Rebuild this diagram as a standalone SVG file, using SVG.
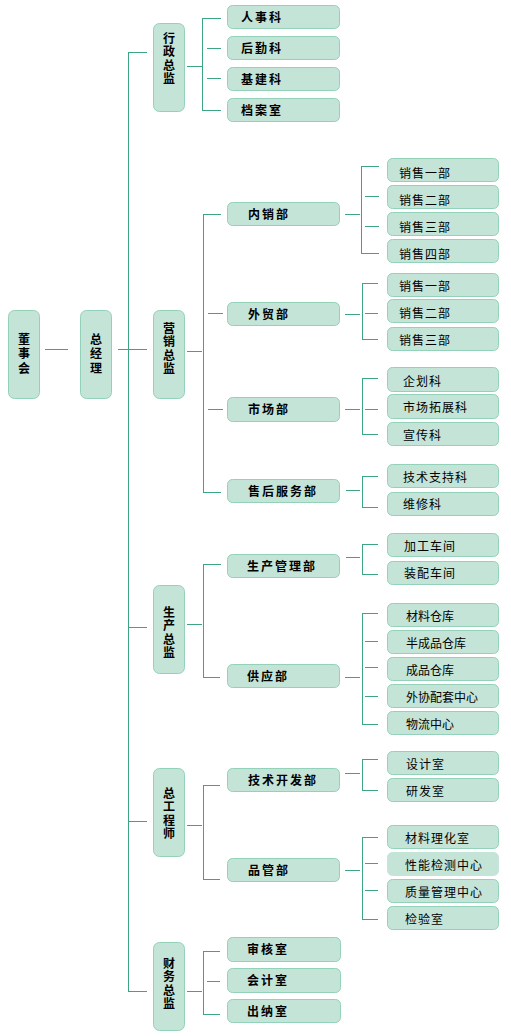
<svg xmlns="http://www.w3.org/2000/svg" width="511" height="1036" viewBox="0 0 511 1036">
<style>
.b{fill:#C4E4D8;stroke:#93D2B8;stroke-width:1}
.c line{stroke:#3DA680;stroke-width:1;fill:none}
text{font-family:"Noto Sans CJK SC","Noto Sans CJK JP",sans-serif;font-size:12px;fill:#000}
.v{font-weight:bold;writing-mode:vertical-rl;letter-spacing:1.6px}
.v0{font-weight:bold;writing-mode:vertical-rl;letter-spacing:2.5px}
.t2{font-weight:bold;letter-spacing:2px}
.t3{letter-spacing:1px}
</style>
<rect width="511" height="1036" fill="#FFFFFF"/>
<g class="c" id="connectors">
<line x1="45" y1="349.5" x2="68" y2="349.5"/>
<line x1="118" y1="349.5" x2="147" y2="349.5"/>
<line x1="128.5" y1="52" x2="128.5" y2="992"/>
<line x1="128" y1="52.5" x2="147" y2="52.5"/>
<line x1="128" y1="627.5" x2="147" y2="627.5"/>
<line x1="128" y1="821.5" x2="147" y2="821.5"/>
<line x1="128" y1="991.5" x2="147" y2="991.5"/>
<line x1="187" y1="66.5" x2="202" y2="66.5"/>
<line x1="202.5" y1="18" x2="202.5" y2="111"/>
<line x1="202" y1="18.5" x2="221" y2="18.5"/>
<line x1="207" y1="48.5" x2="221" y2="48.5"/>
<line x1="207" y1="78.5" x2="221" y2="78.5"/>
<line x1="202" y1="110.5" x2="221" y2="110.5"/>
<line x1="187" y1="351.5" x2="202" y2="351.5"/>
<line x1="203.5" y1="214" x2="203.5" y2="493"/>
<line x1="203" y1="214.5" x2="221" y2="214.5"/>
<line x1="208" y1="313.5" x2="223" y2="313.5"/>
<line x1="208" y1="409.5" x2="223" y2="409.5"/>
<line x1="203" y1="492.5" x2="221" y2="492.5"/>
<line x1="345" y1="214.5" x2="360" y2="214.5"/>
<line x1="361.5" y1="166" x2="361.5" y2="254"/>
<line x1="361" y1="166.5" x2="379" y2="166.5"/>
<line x1="365" y1="196.5" x2="379" y2="196.5"/>
<line x1="365" y1="226.5" x2="379" y2="226.5"/>
<line x1="361" y1="253.5" x2="379" y2="253.5"/>
<line x1="345" y1="314.5" x2="360" y2="314.5"/>
<line x1="362.5" y1="283" x2="362.5" y2="340"/>
<line x1="362" y1="283.5" x2="378" y2="283.5"/>
<line x1="365" y1="313.5" x2="378" y2="313.5"/>
<line x1="362" y1="339.5" x2="378" y2="339.5"/>
<line x1="345" y1="409.5" x2="360" y2="409.5"/>
<line x1="362.5" y1="378" x2="362.5" y2="435"/>
<line x1="362" y1="378.5" x2="378" y2="378.5"/>
<line x1="365" y1="409.5" x2="378" y2="409.5"/>
<line x1="362" y1="434.5" x2="378" y2="434.5"/>
<line x1="346" y1="490.5" x2="360" y2="490.5"/>
<line x1="362.5" y1="476" x2="362.5" y2="508"/>
<line x1="362" y1="476.5" x2="378" y2="476.5"/>
<line x1="362" y1="507.5" x2="378" y2="507.5"/>
<line x1="187" y1="624.5" x2="202" y2="624.5"/>
<line x1="203.5" y1="564" x2="203.5" y2="678"/>
<line x1="203" y1="564.5" x2="221" y2="564.5"/>
<line x1="203" y1="677.5" x2="220" y2="677.5"/>
<line x1="346" y1="557.5" x2="360" y2="557.5"/>
<line x1="362.5" y1="544" x2="362.5" y2="575"/>
<line x1="362" y1="544.5" x2="378" y2="544.5"/>
<line x1="362" y1="574.5" x2="378" y2="574.5"/>
<line x1="345" y1="677.5" x2="360" y2="677.5"/>
<line x1="362.5" y1="613" x2="362.5" y2="725"/>
<line x1="362" y1="613.5" x2="378" y2="613.5"/>
<line x1="365" y1="641.5" x2="378" y2="641.5"/>
<line x1="365" y1="667.5" x2="378" y2="667.5"/>
<line x1="365" y1="696.5" x2="378" y2="696.5"/>
<line x1="362" y1="724.5" x2="378" y2="724.5"/>
<line x1="187" y1="825.5" x2="202" y2="825.5"/>
<line x1="203.5" y1="785" x2="203.5" y2="880"/>
<line x1="203" y1="785.5" x2="220" y2="785.5"/>
<line x1="203" y1="879.5" x2="220" y2="879.5"/>
<line x1="345" y1="773.5" x2="360" y2="773.5"/>
<line x1="362.5" y1="759" x2="362.5" y2="791"/>
<line x1="362" y1="759.5" x2="378" y2="759.5"/>
<line x1="362" y1="790.5" x2="378" y2="790.5"/>
<line x1="345" y1="870.5" x2="360" y2="870.5"/>
<line x1="362.5" y1="837" x2="362.5" y2="920"/>
<line x1="362" y1="837.5" x2="378" y2="837.5"/>
<line x1="365" y1="863.5" x2="378" y2="863.5"/>
<line x1="365" y1="890.5" x2="378" y2="890.5"/>
<line x1="362" y1="919.5" x2="378" y2="919.5"/>
<line x1="187" y1="991.5" x2="202" y2="991.5"/>
<line x1="203.5" y1="951" x2="203.5" y2="1015"/>
<line x1="203" y1="951.5" x2="220" y2="951.5"/>
<line x1="207" y1="981.5" x2="220" y2="981.5"/>
<line x1="203" y1="1014.5" x2="220" y2="1014.5"/>
</g>
<g id="n-dongshihui"><rect class="b" x="8.5" y="310.5" width="31" height="88" rx="6"/><text class="v0" x="24" y="333">董事会</text></g>
<g id="n-zongjingli"><rect class="b" x="80.5" y="310.5" width="31" height="88" rx="6"/><text class="v0" x="96" y="333">总经理</text></g>
<g id="n-xingzheng"><rect class="b" x="153.5" y="23.5" width="31" height="88" rx="6"/><text class="v" x="169" y="32">行政总监</text></g>
<g id="n-yingxiao"><rect class="b" x="153.5" y="310.5" width="31" height="88" rx="6"/><text class="v" x="169" y="322">营销总监</text></g>
<g id="n-shengchan"><rect class="b" x="153.5" y="585.5" width="31" height="88" rx="6"/><text class="v" x="169" y="606">生产总监</text></g>
<g id="n-zonggong"><rect class="b" x="153.5" y="768.5" width="31" height="88" rx="6"/><text class="v" x="169" y="787">总工程师</text></g>
<g id="n-caiwu"><rect class="b" x="153.5" y="942.5" width="31" height="88" rx="6"/><text class="v" x="169" y="957">财务总监</text></g>
<g id="n-renshike"><rect class="b" x="227.5" y="5.5" width="112" height="23" rx="5"/><text class="t2" x="241" y="21.5">人事科</text></g>
<g id="n-houqinke"><rect class="b" x="227.5" y="36.5" width="112" height="23" rx="5"/><text class="t2" x="241" y="52.5">后勤科</text></g>
<g id="n-jijianke"><rect class="b" x="227.5" y="67.5" width="112" height="23" rx="5"/><text class="t2" x="241" y="83.5">基建科</text></g>
<g id="n-danganshi"><rect class="b" x="227.5" y="98.5" width="112" height="23" rx="5"/><text class="t2" x="241" y="114.5">档案室</text></g>
<g id="n-neixiao"><rect class="b" x="227.5" y="202.5" width="112" height="23" rx="5"/><text class="t2" x="248" y="218.5">内销部</text></g>
<g id="n-waimao"><rect class="b" x="227.5" y="302.5" width="112" height="23" rx="5"/><text class="t2" x="248" y="318.5">外贸部</text></g>
<g id="n-shichang"><rect class="b" x="227.5" y="397.5" width="112" height="24" rx="5"/><text class="t2" x="248" y="414">市场部</text></g>
<g id="n-shouhou"><rect class="b" x="227.5" y="479.5" width="112" height="23" rx="5"/><text class="t2" x="248" y="495.5">售后服务部</text></g>
<g id="n-shengchanguanli"><rect class="b" x="227.5" y="554.5" width="112" height="23" rx="5"/><text class="t2" x="247" y="570.5">生产管理部</text></g>
<g id="n-gongying"><rect class="b" x="227.5" y="664.5" width="112" height="23" rx="5"/><text class="t2" x="247" y="680.5">供应部</text></g>
<g id="n-jishukaifa"><rect class="b" x="227.5" y="768.5" width="112" height="23" rx="5"/><text class="t2" x="248" y="784.5">技术开发部</text></g>
<g id="n-pinguan"><rect class="b" x="227.5" y="858.5" width="112" height="23" rx="5"/><text class="t2" x="248" y="874.5">品管部</text></g>
<g id="n-shenheshi"><rect class="b" x="227.5" y="937.5" width="113" height="24" rx="5"/><text class="t2" x="247" y="954">审核室</text></g>
<g id="n-kuaijishi"><rect class="b" x="227.5" y="968.5" width="113" height="24" rx="5"/><text class="t2" x="247" y="985">会计室</text></g>
<g id="n-chunashi"><rect class="b" x="227.5" y="999.5" width="113" height="23" rx="5"/><text class="t2" x="247" y="1015.5">出纳室</text></g>
<g id="n-nx1"><rect class="b" x="387.5" y="158.5" width="111" height="23" rx="5"/><text class="t3" x="399" y="177.5">销售一部</text></g>
<g id="n-nx2"><rect class="b" x="387.5" y="185.5" width="111" height="23" rx="5"/><text class="t3" x="399" y="204.5">销售二部</text></g>
<g id="n-nx3"><rect class="b" x="387.5" y="212.5" width="111" height="23" rx="5"/><text class="t3" x="399" y="231.5">销售三部</text></g>
<g id="n-nx4"><rect class="b" x="387.5" y="239.5" width="111" height="23" rx="5"/><text class="t3" x="399" y="258.5">销售四部</text></g>
<g id="n-wm1"><rect class="b" x="387.5" y="273.5" width="111" height="23" rx="5"/><text class="t3" x="399" y="291">销售一部</text></g>
<g id="n-wm2"><rect class="b" x="387.5" y="299.5" width="111" height="23" rx="5"/><text class="t3" x="399" y="317.5">销售二部</text></g>
<g id="n-wm3"><rect class="b" x="387.5" y="327.5" width="111" height="23" rx="5"/><text class="t3" x="399" y="344.5">销售三部</text></g>
<g id="n-qihuake"><rect class="b" x="387.5" y="367.5" width="111" height="24" rx="5"/><text class="t3" x="403" y="385.5">企划科</text></g>
<g id="n-tuozhanke"><rect class="b" x="387.5" y="394.5" width="111" height="24" rx="5"/><text class="t3" x="403" y="412">市场拓展科</text></g>
<g id="n-xuanchuanke"><rect class="b" x="387.5" y="422.5" width="111" height="23" rx="5"/><text class="t3" x="403" y="439.5">宣传科</text></g>
<g id="n-jishuzhichi"><rect class="b" x="387.5" y="464.5" width="111" height="23" rx="5"/><text class="t3" x="403" y="481.5">技术支持科</text></g>
<g id="n-weixiuke"><rect class="b" x="387.5" y="492.5" width="111" height="23" rx="5"/><text class="t3" x="403" y="509">维修科</text></g>
<g id="n-jiagong"><rect class="b" x="387.5" y="533.5" width="111" height="23" rx="5"/><text class="t3" x="404" y="550.5">加工车间</text></g>
<g id="n-zhuangpei"><rect class="b" x="387.5" y="561.5" width="111" height="23" rx="5"/><text class="t3" x="404" y="578">装配车间</text></g>
<g id="n-cailiaocangku"><rect class="b" x="387.5" y="603.5" width="111" height="23" rx="5"/><text x="406" y="621">材料仓库</text></g>
<g id="n-banchengpin"><rect class="b" x="387.5" y="630.5" width="111" height="23" rx="5"/><text x="406" y="648">半成品仓库</text></g>
<g id="n-chengpin"><rect class="b" x="387.5" y="657.5" width="111" height="23" rx="5"/><text x="406" y="675">成品仓库</text></g>
<g id="n-waixie"><rect class="b" x="387.5" y="684.5" width="111" height="23" rx="5"/><text x="406" y="702">外协配套中心</text></g>
<g id="n-wuliu"><rect class="b" x="387.5" y="711.5" width="111" height="23" rx="5"/><text x="406" y="729">物流中心</text></g>
<g id="n-shejishi"><rect class="b" x="387.5" y="751.5" width="111" height="23" rx="5"/><text class="t3" x="406" y="768.5">设计室</text></g>
<g id="n-yanfashi"><rect class="b" x="387.5" y="778.5" width="111" height="23" rx="5"/><text class="t3" x="406" y="795.5">研发室</text></g>
<g id="n-lihuashi"><rect class="b" x="387.5" y="825.5" width="111" height="23" rx="5"/><text class="t3" x="405" y="842.5">材料理化室</text></g>
<g id="n-xingneng"><rect class="b" x="387.5" y="852.5" width="111" height="23" rx="5" style="stroke:#C4E4D8"/><text class="t3" x="405" y="869.5">性能检测中心</text></g>
<g id="n-zhiliang"><rect class="b" x="387.5" y="879.5" width="111" height="23" rx="5"/><text class="t3" x="405" y="896.5">质量管理中心</text></g>
<g id="n-jianyanshi"><rect class="b" x="387.5" y="906.5" width="111" height="23" rx="5"/><text class="t3" x="405" y="923.5">检验室</text></g>
</svg>
